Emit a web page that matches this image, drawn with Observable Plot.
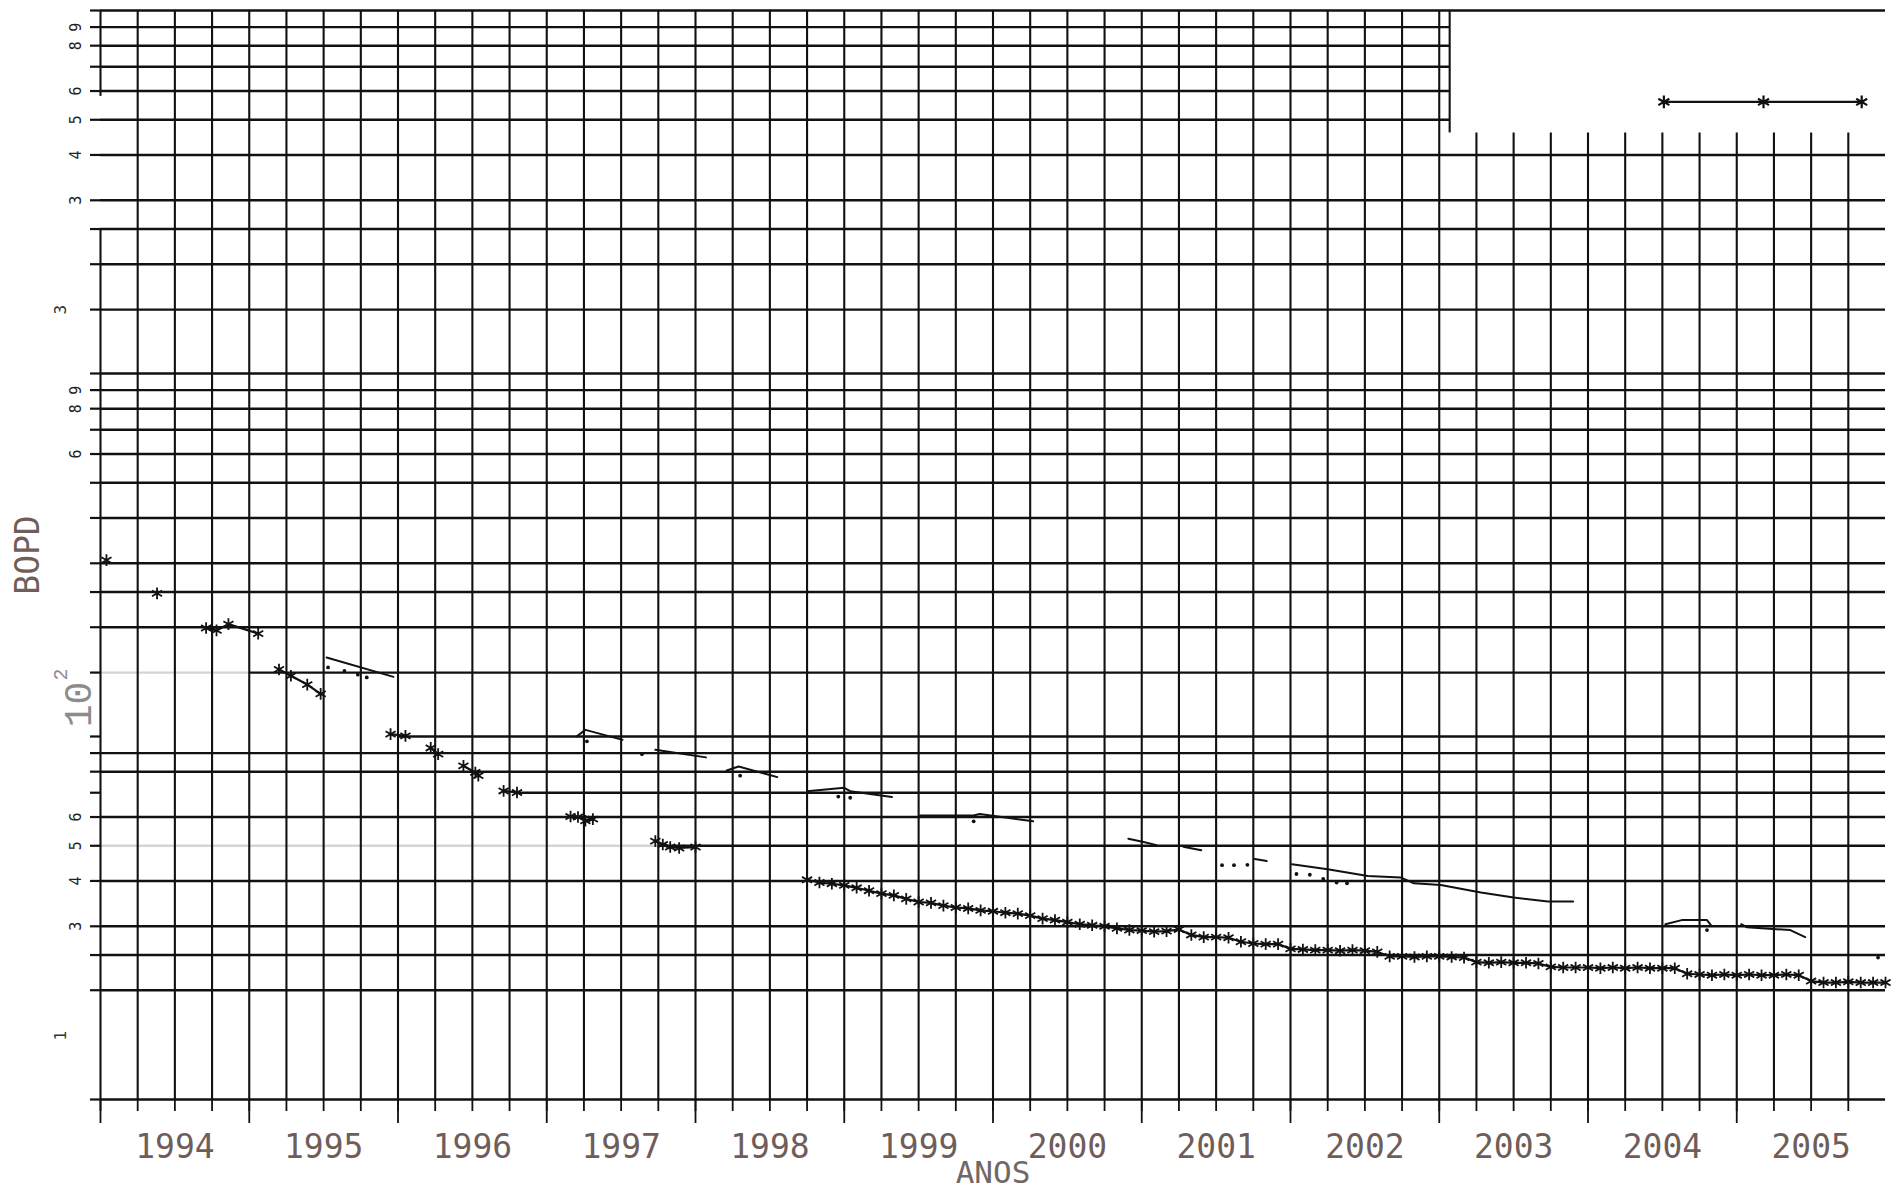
<!DOCTYPE html>
<html>
<head>
<meta charset="utf-8">
<script src="https://cdn.jsdelivr.net/npm/d3@7"></script>
<script src="https://cdn.jsdelivr.net/npm/@observablehq/plot@0.6"></script>
<style>
  html, body { margin: 0; padding: 0; background: #ffffff; }
  #chart svg { display: block; }
</style>
</head>
<body>
<div id="chart"></div>
<script>
// ---------------- data ----------------
const yearLabels = ["1994","1995","1996","1997","1998","1999","2000","2001","2002","2003","2004","2005"];
const yearLabelPos = [1994.5,1995.5,1996.5,1997.5,1998.5,1999.5,2000.5,2001.5,2002.5,2003.5,2004.5,2005.5];
const yearStarts = [1994,1995,1996,1997,1998,1999,2000,2001,2002,2003,2004,2005];

// horizontal grid lines of the log paper (BOPD)
const gridValues = [10,20,25,30,40,50,60,70,80,90,100,150,200,250,300,400,500,600,700,800,900,1000,1500,2000,2500,3000,4000,5000,6000,7000,8000,9000,10000];

// printed tick digits on the log paper
const tickValues = [30,40,50,60,600,800,900,3000,4000,5000,6000,8000,9000];
const tickLabels = ["3","4","5","6","6","8","9","3","4","5","6","8","9"];
const expValues = [15,1500];
const expLabels = ["1","3"];

// lower (measured) series: early short segments [year, BOPD]
const starSegments = [
  [[1994.04, 306]],
  [[1994.38, 248]],
  [[1994.71, 199],[1994.78, 196],[1994.86, 204],[1995.06, 192]],
  [[1995.20, 153],[1995.28, 147],[1995.39, 139],[1995.48, 131]],
  [[1995.95, 101.5],[1996.05, 100.4]],
  [[1996.22, 93],[1996.27, 89.4]],
  [[1996.44, 83],[1996.52, 79.6],[1996.54, 78]],
  [[1996.71, 70.8],[1996.80, 70.1]],
  [[1997.16, 60.2],[1997.21, 60.0],[1997.26, 58.6],[1997.31, 59.2]],
  [[1997.73, 51.5],[1997.78, 50.4],[1997.83, 49.6],[1997.89, 49.3],[1998.0, 49.6]]
];

// lower series: monthly values from Oct 1998
const monthlyStart = 1998.75;
const monthlyBOPD = [
  40.3,39.6,39.3,
  38.9,38.3,37.6,36.9,36.5,35.7,35.0,34.8,34.2,33.8,33.6,33.2,
  33.0,32.7,32.5,32.1,31.5,31.2,30.8,30.4,30.2,30.0,29.6,29.3,
  29.2,29.0,29.1,29.4,28.4,28.0,28.0,27.9,27.2,26.9,26.8,26.8,
  26.0,25.9,25.8,25.8,25.7,25.8,25.7,25.5,24.8,24.8,24.7,24.8,
  24.8,24.7,24.6,23.9,23.8,23.9,23.8,23.8,23.7,23.2,23.1,23.1,
  23.1,23.0,23.1,23.0,23.1,23.0,23.0,23.0,22.2,22.1,22.0,22.1,
  22.0,22.1,22.0,22.0,22.1,22.0,21.2,21.0,21.0,21.1,21.0,21.0,
  21.0
];

// upper thin-line series (segments)
const thinSegments = [
  [[1995.52,165],[1995.97,146]],
  [[1997.20,100],[1997.26,104.3],[1997.51,97.9]],
  [[1997.73,91.9],[1998.07,87.6]],
  [[1998.21,80.6],[1998.29,82.7],[1998.55,77.3]],
  [[1998.75,70.7],[1999.0,72.2],[1999.04,70.7],[1999.32,68.1]],
  [[1999.51,60.6],[1999.87,60.6],[1999.91,61.2],[2000.27,58.4]],
  [[2000.91,52.3],[2001.02,51.1],[2001.10,50.2]],
  [[2001.28,49.7],[2001.40,48.6]],
  [[2001.76,46.0],[2001.84,45.4]],
  [[2002.01,44.5],[2002.25,43.1],[2002.52,41.3],[2002.74,40.9],[2002.83,39.4],[2003.01,39.0],[2003.28,37.2],[2003.50,36.0],[2003.73,35.1],[2003.90,35.1]],
  [[2004.52,30.4],[2004.63,31.2],[2004.80,31.2],[2004.83,30.1]],
  [[2005.03,30.4],[2005.07,29.8],[2005.36,29.3],[2005.46,28.0]]
];

// scattered dots
const dotYears = [1995.53,1995.64,1995.73,1995.79,1997.27,1997.64,1998.30,1998.96,1999.04,1999.87,2001.54,2001.62,2001.71,2002.04,2002.13,2002.22,2002.31,2002.38,2004.80,2005.95];
const dotBOPD  = [155,151.5,148,145.5,97.0,89.4,78.0,68.3,67.8,58.4,44.2,44.2,44.3,41.8,41.6,40.5,39.6,39.4,29.3,24.6];

// top-right series
const topYears = [2004.51, 2005.18, 2005.84];
const topBOPD  = [5600, 5600, 5600];

// ---------------- tables ----------------
const INK = "#111111";
const FAINT = "#d4d4d4";
const CUT_YEAR = 2003.07, CUT_VALUE = 4600;

const hgrid = [];
for (const v of gridValues) {
  let x1 = 1994, x2 = 2006;
  if (v > CUT_VALUE && v < 10000) x2 = CUT_YEAR;
  if (v === 70) x1 = 1996.8;
  if (v === 100) x1 = 1996.0;
  if (v === 150) { hgrid.push({v, x1: 1994, x2: 1995, c: FAINT}); x1 = 1995; }
  if (v === 50) { hgrid.push({v, x1: 1994, x2: 1997.75, c: FAINT}); x1 = 1997.75; }
  hgrid.push({v, x1, x2, c: INK});
}

const quarters = d3.range(0, 48).map(i => 1994 + i * 0.25);
const vgrid = [];
for (const x of quarters) {
  if (x === 1994) {
    vgrid.push({x, y1: 10, y2: 2500});
    vgrid.push({x, y1: 5800, y2: 10000});
  } else {
    vgrid.push({x, y1: 10, y2: x > CUT_YEAR ? CUT_VALUE : 10000});
  }
}
vgrid.push({x: CUT_YEAR, y1: CUT_VALUE, y2: 10000});

const lowerRows = [];
starSegments.forEach((seg, s) => seg.forEach(([year, bopd]) => lowerRows.push({year, bopd, seg: "s" + s})));
monthlyBOPD.forEach((bopd, i) => lowerRows.push({year: monthlyStart + i / 12, bopd, seg: "m"}));

const thinRows = [];
thinSegments.forEach((seg, s) => seg.forEach(([year, bopd]) => thinRows.push({year, bopd, seg: "t" + s})));

const dotRows = dotYears.map((year, i) => ({year, bopd: dotBOPD[i]}));
const topRows = topYears.map((year, i) => ({year, bopd: topBOPD[i]}));

const LABEL_FONT = "DejaVu Sans Mono";
const LABEL_COLOR = "#6f5d5a";

const chart = Plot.plot({
  width: 1897,
  height: 1186,
  marginLeft: 100,
  marginRight: 12,
  marginTop: 10,
  marginBottom: 87,
  style: {background: "#ffffff", overflow: "visible"},
  x: {type: "linear", domain: [1994, 2006]},
  y: {type: "log", domain: [10, 10000]},
  marks: [
    // log-paper grid
    Plot.ruleY(hgrid, {y: "v", x1: "x1", x2: "x2", stroke: "c", strokeWidth: 2.4}),
    Plot.ruleX(vgrid, {x: "x", y1: "y1", y2: "y2", stroke: INK, strokeWidth: 2.1}),
    // tick stubs left of the grid
    Plot.axisY(gridValues, {anchor: "left", tickSize: 10, tickFormat: () => "", label: null, stroke: INK, strokeWidth: 2.2}),
    // tick stubs below the grid
    Plot.axisX(quarters, {anchor: "bottom", tickSize: 12, tickFormat: () => "", label: null, stroke: INK, strokeWidth: 1.8}),
    Plot.axisX(yearStarts, {anchor: "bottom", tickSize: 24, tickFormat: () => "", label: null, stroke: INK, strokeWidth: 1.8}),
    // printed digits
    Plot.text(tickValues, {y: d => d, text: (d, i) => tickLabels[i], frameAnchor: "left", textAnchor: "middle", lineAnchor: "middle", dx: -24, rotate: -90, fontSize: 15, fontFamily: LABEL_FONT, fill: "#222222"}),
    Plot.text(expValues, {y: d => d, text: (d, i) => expLabels[i], frameAnchor: "left", textAnchor: "middle", lineAnchor: "middle", dx: -40, rotate: -90, fontSize: 16, fontFamily: LABEL_FONT, fill: "#333333"}),
    Plot.text(["10"], {y: [100], frameAnchor: "left", textAnchor: "middle", lineAnchor: "middle", dx: -21.5, dy: -32, rotate: -90, fontSize: 38, fontFamily: "Liberation Mono", fill: "#8c8c8c"}),
    Plot.text(["2"], {y: [100], frameAnchor: "left", textAnchor: "middle", lineAnchor: "middle", dx: -40, dy: -62, rotate: -90, fontSize: 20, fontFamily: "Liberation Mono", fill: "#8c8c8c"}),
    // year labels and axis titles
    Plot.text(yearLabels, {x: yearLabelPos, frameAnchor: "bottom", textAnchor: "middle", lineAnchor: "middle", dy: 48, fontSize: 33, fontFamily: LABEL_FONT, fill: LABEL_COLOR}),
    Plot.text(["ANOS"], {frameAnchor: "bottom", textAnchor: "middle", lineAnchor: "top", dy: 61, fontSize: 31, fontFamily: LABEL_FONT, fill: "#706867"}),
    Plot.text(["BOPD"], {frameAnchor: "left", textAnchor: "middle", lineAnchor: "middle", dx: -72.5, rotate: -90, fontSize: 33, fontFamily: LABEL_FONT, fill: LABEL_COLOR}),
    // data
    Plot.line(thinRows, {x: "year", y: "bopd", z: "seg", stroke: INK, strokeWidth: 2}),
    Plot.dot(dotRows, {x: "year", y: "bopd", r: 1.9, fill: INK}),
    Plot.line(lowerRows, {x: "year", y: "bopd", z: "seg", stroke: INK, strokeWidth: 2.2}),
    Plot.dot(lowerRows, {x: "year", y: "bopd", symbol: "asterisk", r: 5.5, stroke: INK, strokeWidth: 1.8}),
    Plot.line(topRows, {x: "year", y: "bopd", stroke: INK, strokeWidth: 2.2}),
    Plot.dot(topRows, {x: "year", y: "bopd", symbol: "asterisk", r: 6, stroke: INK, strokeWidth: 2.2})
  ]
});

document.getElementById("chart").appendChild(chart);
</script>
</body>
</html>
